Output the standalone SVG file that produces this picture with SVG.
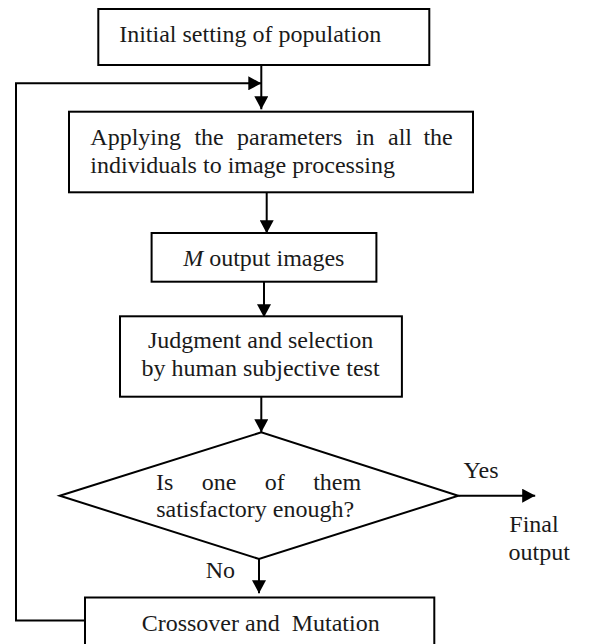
<svg xmlns="http://www.w3.org/2000/svg" width="598" height="644" viewBox="0 0 598 644">
<style>
.box{fill:#fff;stroke:#000;stroke-width:2}
.con{fill:none;stroke:#000;stroke-width:2}
text{font-family:"Liberation Serif","Times New Roman",serif;font-size:24px;fill:#1a1a1a}
.mid{text-anchor:middle}
</style>
<defs>
<marker id="ah" markerWidth="13" markerHeight="14" refX="13" refY="7" orient="auto" markerUnits="userSpaceOnUse">
<path d="M0,0 L13,7 L0,14 Z" fill="#000"/>
</marker>
</defs>
<g id="connectors">
<path class="con" d="M261.3,65 V109.3" marker-end="url(#ah)"/>
<path class="con" d="M85,620.5 H16 V83.3 H261.3" marker-end="url(#ah)"/>
<path class="con" d="M266.7,192.3 V233.3" marker-end="url(#ah)"/>
<path class="con" d="M264,281.7 V317.3" marker-end="url(#ah)"/>
<path class="con" d="M261.3,396.7 V432.3" marker-end="url(#ah)"/>
<path class="con" d="M458.3,495.7 H535.2" marker-end="url(#ah)"/>
<path class="con" d="M259,559 V593.3" marker-end="url(#ah)"/>
</g>
<g id="n1">
<rect class="box" x="98.3" y="9" width="331" height="56"/>
<text x="119.2" y="41.7">Initial setting of population</text>
</g>
<g id="n2">
<rect class="box" x="69" y="111.7" width="404" height="80.6"/>
<text y="145"><tspan x="90.3">Applying</tspan><tspan x="194.4">the</tspan><tspan x="237.1">parameters</tspan><tspan x="355.8">in</tspan><tspan x="388">all</tspan><tspan x="423.4">the</tspan></text>
<text x="90.3" y="173.3">individuals to image processing</text>
</g>
<g id="n3">
<rect class="box" x="151.6" y="233" width="224.8" height="48.7"/>
<text class="mid" x="263.8" y="265.7"><tspan font-style="italic">M</tspan> output images</text>
</g>
<g id="n4">
<rect class="box" x="120" y="316.3" width="281.9" height="80.4"/>
<text class="mid" x="260.6" y="348.3">Judgment and selection</text>
<text class="mid" x="260.6" y="376">by human subjective test</text>
</g>
<g id="n5">
<path class="box" d="M59.8,495.7 L261.3,432.3 L458.3,495.7 L259,559 Z"/>
<text y="490"><tspan x="156">Is</tspan><tspan x="201.7">one</tspan><tspan x="264.8">of</tspan><tspan x="313.2">them</tspan></text>
<text x="156.2" y="517.3">satisfactory enough?</text>
</g>
<g id="n6">
<rect class="box" x="85" y="597.5" width="349.3" height="60"/>
<text x="141.7" y="631" xml:space="preserve">Crossover and  Mutation</text>
</g>
<g id="labels">
<text x="463.6" y="478.3">Yes</text>
<text x="509.3" y="531.7">Final</text>
<text x="508.6" y="560">output</text>
<text x="205.7" y="578.3">No</text>
</g>
</svg>
